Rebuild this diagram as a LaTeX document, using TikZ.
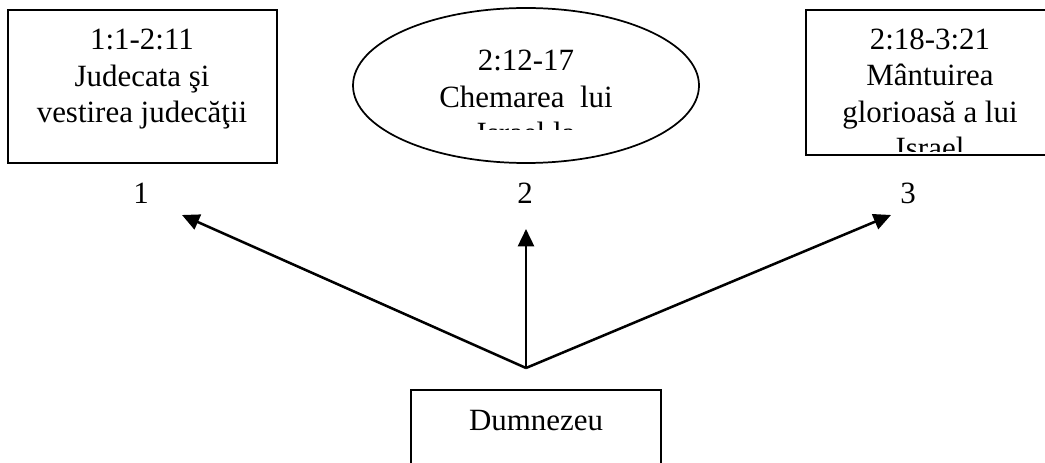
\documentclass[tikz,border=0pt]{standalone}
\usepackage{fontspec}
\setmainfont{Liberation Serif}
\usetikzlibrary{arrows.meta,shapes.geometric}
\begin{document}
\begin{tikzpicture}[x=0.75pt,y=-0.75pt,
  box/.style={draw, line width=1.3pt, inner sep=0pt},
  txt/.style={font=\fontsize{23.2pt}{27.4pt}\selectfont, inner sep=0pt, anchor=base},
  arr/.style={line width=1.9pt, -{Triangle[length=13pt,width=12pt]}}]
\path[use as bounding box] (0,0) rectangle (1045,463);
\clip (0,0) rectangle (1045,463);
% boxes
\node[box, minimum width=201.75pt, minimum height=114.75pt] (b1) at (142.5,86.5) {};
\node[box, ellipse, minimum width=259.5pt, minimum height=116.25pt] (b2) at (526,85.5) {};
\node[box, minimum width=190.5pt, minimum height=108.75pt] (b3) at (933,82.5) {};
\node[box, minimum width=187.5pt, minimum height=67.5pt] (b4) at (536,435) {};
% texts (anchor base = last line)
\node[txt, align=center] (t1) at (142,123) {1:1-2:11\\Judecata şi\\vestirea judecăţii};
\begin{scope}
\clip (340,0) rectangle (710,130);
\node[txt, align=center] (t2) at (526,144) {2:12-17\\Chemarea\ \ lui\\Israel la};
\end{scope}
\begin{scope}
\clip (800,0) rectangle (1045,152);
\node[txt, align=center] (t3) at (930,159) {2:18-3:21\\Mântuirea\\glorioasă a lui\\Israel};
\end{scope}
\node[txt] (t4) at (536,430) {Dumnezeu};
% labels
\node[txt] (n1) at (141,204) {1};
\node[txt] (n2) at (525,204) {2};
\node[txt] (n3) at (908,204) {3};
% arrows
\coordinate (apex) at (526,368);
\coordinate (a1) at (182,215);
\coordinate (a2) at (526,229);
\coordinate (a3) at (891,215);
\draw[arr] (apex) -- (a1);
\draw[arr] (apex) -- (a2);
\draw[arr] (apex) -- (a3);
\end{tikzpicture}
\end{document}
